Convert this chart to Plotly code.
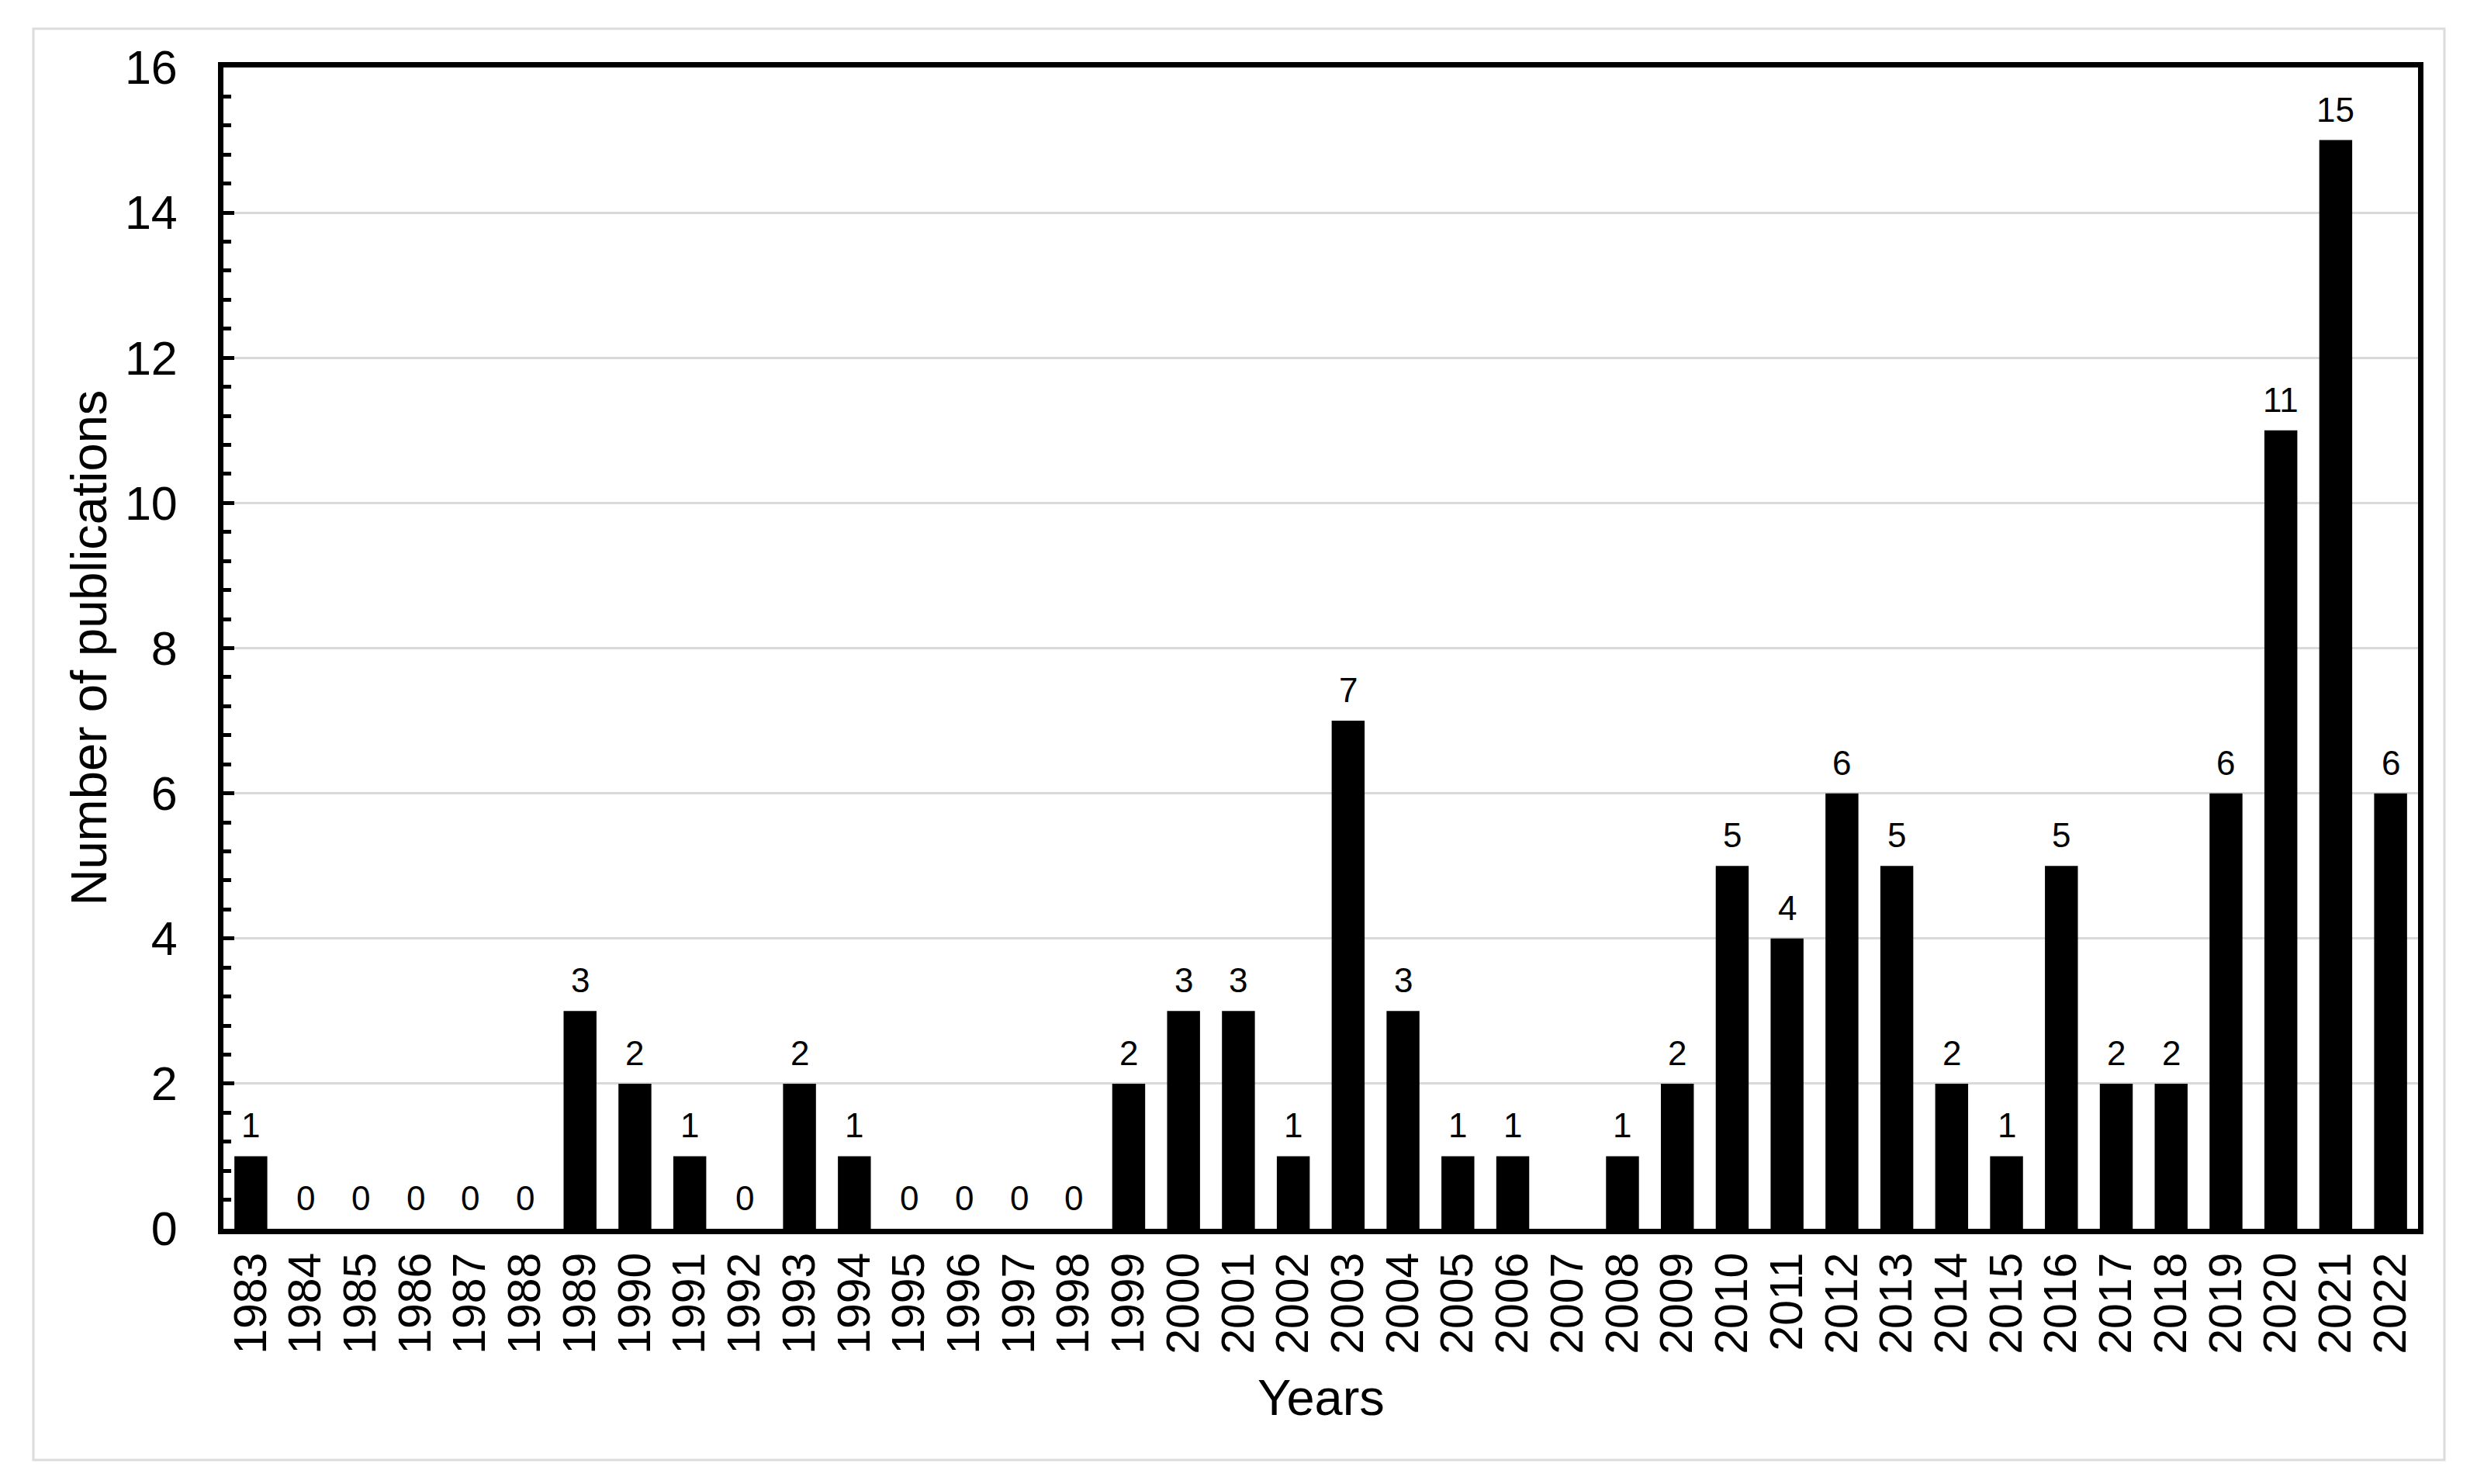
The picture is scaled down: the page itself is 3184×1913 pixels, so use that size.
import plotly.graph_objects as go

# publications per year (2007 has no bar and no label)
years = [str(y) for y in range(1983, 2023)]
counts = [1, 0, 0, 0, 0, 0, 3, 2, 1, 0,
          2, 1, 0, 0, 0, 0, 2, 3, 3, 1,
          7, 3, 1, 1, None, 1, 2, 5, 4, 6,
          5, 2, 1, 5, 2, 2, 6, 11, 15, 6]

y_ticks = [0, 2, 4, 6, 8, 10, 12, 14, 16]

FONT = "Liberation Sans, Arial, sans-serif"
PAGE_W, PAGE_H = 3184, 1913
OFF = 8  # default body margin of the html page
W, H = PAGE_W - OFF, PAGE_H - OFF
# plot area in page pixels
X0, X1, Y0, Y1 = 288, 3117, 87, 1584
L, R, T, B = X0 - OFF, PAGE_W - X1, Y0 - OFF, PAGE_H - Y1
pw = X1 - X0
ph = Y1 - Y0


def px_x(p):
    return (p - X0) / pw


def px_y(p):
    return (Y1 - p) / ph


fig = go.Figure()

fig.add_bar(
    x=years,
    y=counts,
    marker=dict(color="black", line=dict(width=0)),
    width=0.6,
)

# value labels above bars (category axis -> use the index position)
for i, c in enumerate(counts):
    if c is None:
        continue
    fig.add_annotation(
        x=i, y=c, text=str(c), showarrow=False,
        yanchor="bottom", yshift=13,
        font=dict(family=FONT, size=44, color="black"),
    )

# axis titles
fig.add_annotation(
    xref="paper", yref="paper", x=px_x(114), y=0.5,
    text="Number of publications", textangle=-90, showarrow=False,
    xanchor="center", yanchor="middle",
    font=dict(family=FONT, size=65, color="black"),
)
fig.add_annotation(
    xref="paper", yref="paper", x=0.5, y=px_y(1801),
    text="Years", showarrow=False,
    xanchor="center", yanchor="middle",
    font=dict(family=FONT, size=65, color="black"),
)

# light outer frame
fig.add_shape(
    type="rect", xref="paper", yref="paper",
    x0=px_x(43), x1=px_x(3151), y0=px_y(1882), y1=px_y(37),
    line=dict(color="#dcdcdc", width=3), layer="below",
)

fig.update_layout(
    width=W, height=H,
    margin=dict(l=L, r=R, t=T, b=B),
    paper_bgcolor="white", plot_bgcolor="white",
    showlegend=False,
    font=dict(family=FONT, color="black"),
)

fig.update_xaxes(
    type="category", range=[-0.5, len(years) - 0.5],
    tickmode="array", tickvals=years, ticktext=years,
    showline=True, linecolor="black", linewidth=7, mirror=True,
    showgrid=False, ticks="", tickangle=-90,
    tickfont=dict(family=FONT, size=59, color="black"),
)

fig.update_yaxes(
    range=[0, 16], tickvals=y_ticks,
    showline=True, linecolor="black", linewidth=7, mirror=True,
    showgrid=True, gridcolor="#d9d9d9", gridwidth=3, zeroline=False,
    ticks="inside", ticklen=14, tickwidth=5, tickcolor="black",
    minor=dict(dtick=0.4, ticks="inside", ticklen=10, tickwidth=5,
               tickcolor="black", showgrid=False),
    ticklabelstandoff=40,
    tickfont=dict(family=FONT, size=61, color="black"),
)

fig.write_html("out.html")
